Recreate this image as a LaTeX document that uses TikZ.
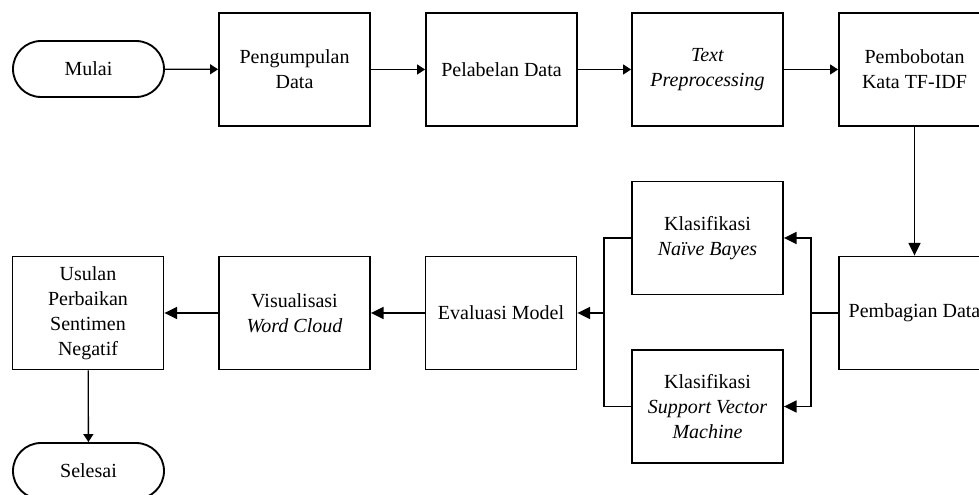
\documentclass[tikz,border=0pt]{standalone}
\usepackage{fontspec}
\setmainfont{Liberation Serif}
\usetikzlibrary{arrows.meta,shapes.misc}

\begin{document}
\begin{tikzpicture}[x=0.75pt,y=-0.75pt,
  every node/.style={font=\fontsize{15}{18.75}\selectfont, align=center, inner sep=0pt},
  box/.style={draw, line width=1.4pt, minimum width=113.25pt, minimum height=84.75pt},
  terminal/.style={rounded rectangle, draw, line width=1.4pt, minimum width=113.25pt, minimum height=42pt},
  conn/.style={line width=1pt},
  small/.tip={Triangle[length=6pt,width=7.5pt]},
  big/.tip={Triangle[length=9.5pt,width=9pt]}]

\useasboundingbox (0,0) rectangle (979,495);
\clip (0,0) rectangle (979,495);

% top row
\node[terminal] (mulai) at (88.5,69) {Mulai};
\node[box] (peng)  at (294.5,69.5) {Pengumpulan\\Data};
\node[box] (label) at (501.5,69.5) {Pelabelan Data};
\node[box] (prep)  at (707.5,69.5) {\textit{Text}\\\textit{Preprocessing}};
\node[box] (bobot) at (914.5,69.5) {Pembobotan\\Kata TF-IDF};

% classification stage
\node[box] (bagi) at (914.5,313) {Pembagian Data};
\node[box] (nb)   at (707.5,238) {Klasifikasi\\\textit{Naïve Bayes}};
\node[box] (svm)  at (707.5,406.5) {Klasifikasi\\\textit{Support Vector}\\\textit{Machine}};

% bottom row
\node[box] (eval)  at (501,313) {Evaluasi Model};
\node[box] (vis)   at (294.5,313) {Visualisasi\\\textit{Word Cloud}};
\node[box] (usul)  at (88,313) {Usulan\\Perbaikan\\Sentimen\\Negatif};
\node[terminal] (selesai) at (88.5,471) {Selesai};

% branch points
\coordinate (jr) at (811,313);
\coordinate (jl) at (604,313);

% connectors
\draw[conn,-small] (mulai) -- (peng);
\draw[conn,-small] (peng) -- (label);
\draw[conn,-small] (label) -- (prep);
\draw[conn,-small] (prep) -- (bobot);
\draw[conn,-big] (bobot) -- (bagi);
\draw[conn] (bagi.west) -- (jr);
\draw[conn,-big] (jr) |- (nb.east);
\draw[conn,-big] (jr) |- (svm.east);
\draw[conn] (nb.west) -| (jl);
\draw[conn] (svm.west) -| (jl);
\draw[conn,-big] (jl) -- (eval.east);
\draw[conn,-big] (eval) -- (vis);
\draw[conn,-big] (vis) -- (usul);
\draw[conn,-small] (usul) -- (selesai);
\end{tikzpicture}
\end{document}
